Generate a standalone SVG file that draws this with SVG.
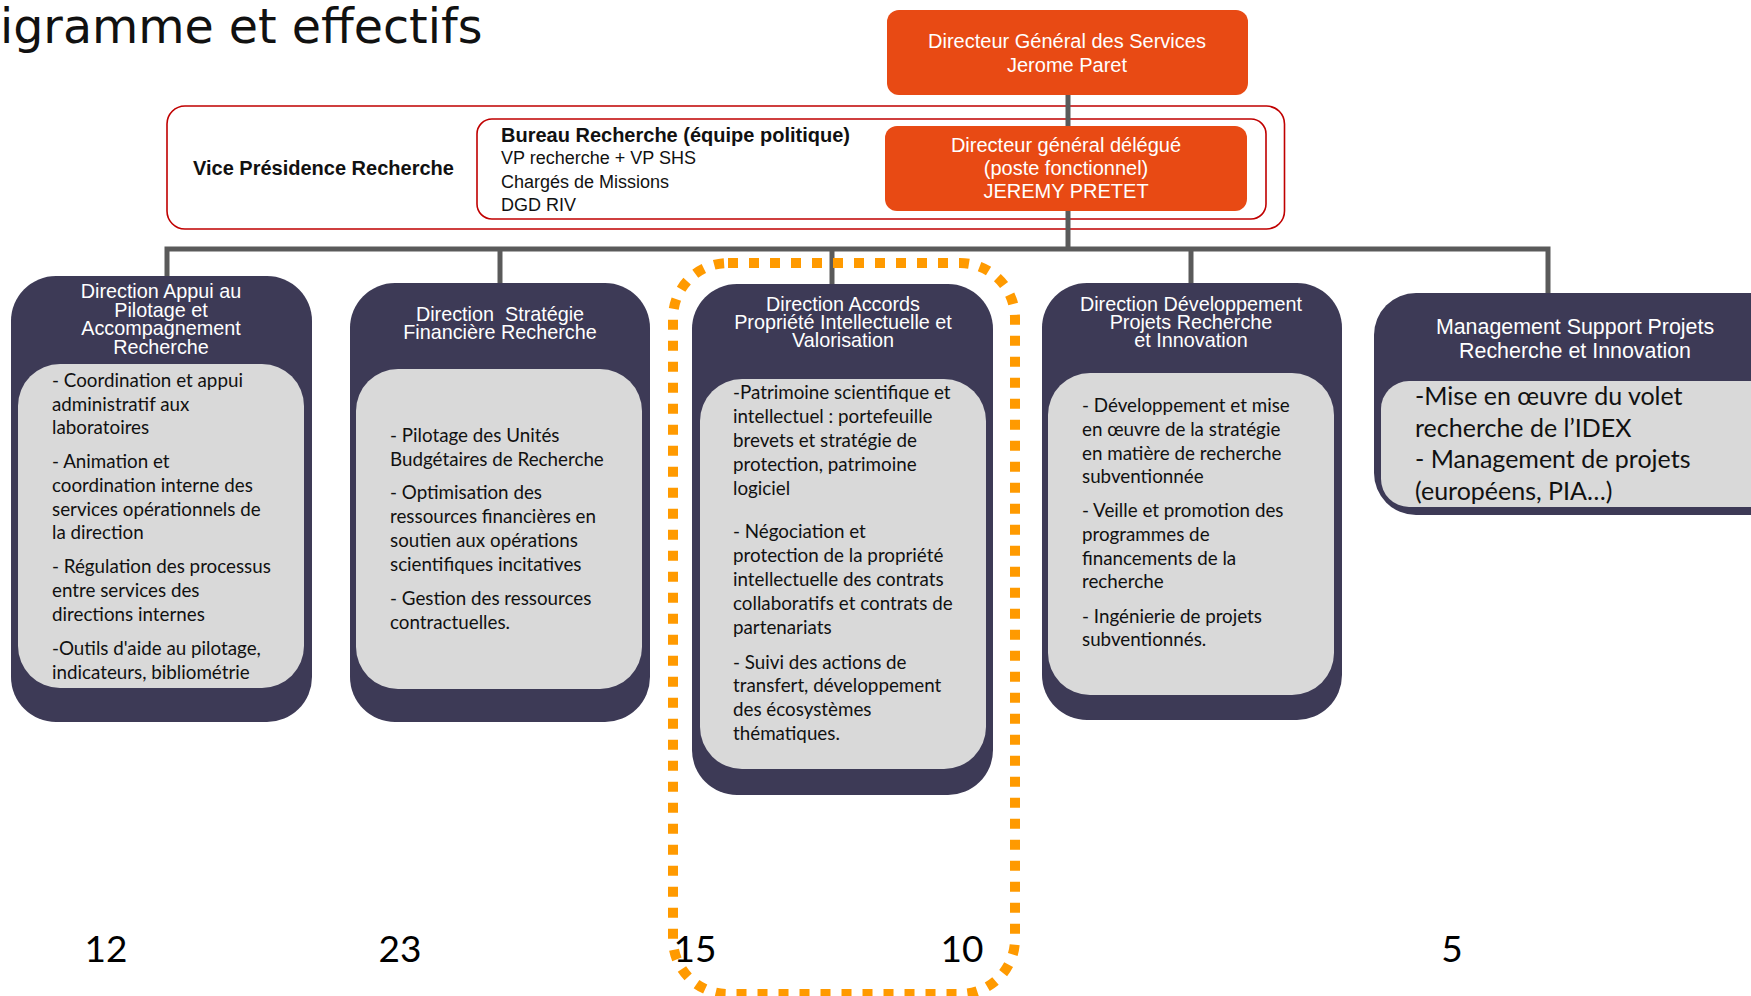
<svg xmlns="http://www.w3.org/2000/svg" width="1751" height="996" viewBox="0 0 1751 996">
<style>
.navy{fill:#3d3a56}
.lite{fill:#d9d9d9}
.org{fill:#e84a14}
.red{fill:none;stroke:#c00000;stroke-width:1.6}
.ttl{font-family:"Liberation Sans",Arial,sans-serif;font-size:19.8px;fill:#ffffff;text-anchor:middle}
.otx{font-family:"Liberation Sans",Arial,sans-serif;font-size:20px;fill:#ffffff;text-anchor:middle}
.body{font-family:Lato,"Open Sans",sans-serif;font-size:18.8px;fill:#111111}
.big{font-size:25px}
.vp{font-family:"Liberation Sans",Arial,sans-serif;fill:#111111}
.conn{stroke:#5a5a5a;stroke-width:5;fill:none}
.num{font-family:Lato,"Open Sans",sans-serif;font-size:37px;fill:#000000;text-anchor:middle}
</style>
<rect width="1751" height="996" fill="#ffffff"/>
<text x="0" y="43" font-family="'DejaVu Sans',Verdana,sans-serif" font-size="47.5" fill="#111111">igramme et effectifs</text>

<g id="vice-presidence">
<rect class="red" x="167" y="106" width="1117.5" height="123" rx="18"/>
<text class="vp" x="193" y="175" font-size="20" font-weight="bold">Vice Présidence Recherche</text>
</g>
<g id="bureau-recherche">
<rect class="red" x="477" y="119" width="789" height="100" rx="15"/>
<text class="vp" x="501" y="142" font-size="20" font-weight="bold">Bureau Recherche (équipe politique)</text>
<text class="vp" x="501" y="164" font-size="18">VP recherche + VP SHS</text>
<text class="vp" x="501" y="187.5" font-size="18">Chargés de Missions</text>
<text class="vp" x="501" y="211" font-size="18">DGD RIV</text>
</g>

<g id="connectors">
<path class="conn" d="M1068 95V126"/>
<path class="conn" d="M1068 211V249"/>
<path class="conn" d="M167 282V249H1548V293"/>
<path class="conn" d="M500 249V284"/>
<path class="conn" d="M832 249V284"/>
<path class="conn" d="M1191 249V284"/>
</g>

<g id="dgs">
<rect class="org" x="887" y="10" width="361" height="85" rx="12"/>
<text class="otx" x="1067" y="48">Directeur Général des Services</text>
<text class="otx" x="1067" y="72">Jerome Paret</text>
</g>
<g id="dgd">
<rect class="org" x="885" y="126" width="362" height="85" rx="12"/>
<text class="otx" x="1066" y="152">Directeur général délégué</text>
<text class="otx" x="1066" y="175">(poste fonctionnel)</text>
<text class="otx" x="1066" y="198">JEREMY PRETET</text>
</g>

<g id="dir-appui-pilotage">
<rect class="navy" x="11" y="276" width="301" height="446" rx="45"/>
<rect class="lite" x="18" y="364" width="286" height="324" rx="42"/>
<text class="ttl" x="161" y="298">Direction Appui au</text>
<text class="ttl" x="161" y="316.5">Pilotage et</text>
<text class="ttl" x="161" y="335">Accompagnement</text>
<text class="ttl" x="161" y="353.5">Recherche</text>
<text class="body" x="52" y="387">- Coordination et appui</text>
<text class="body" x="52" y="411">administratif aux</text>
<text class="body" x="52" y="434">laboratoires</text>
<text class="body" x="52" y="468">- Animation et</text>
<text class="body" x="52" y="492">coordination interne des</text>
<text class="body" x="52" y="516">services opérationnels de</text>
<text class="body" x="52" y="539">la direction</text>
<text class="body" x="52" y="573">- Régulation des processus</text>
<text class="body" x="52" y="597">entre services des</text>
<text class="body" x="52" y="621">directions internes</text>
<text class="body" x="52" y="655">-Outils d'aide au pilotage,</text>
<text class="body" x="52" y="679">indicateurs, bibliométrie</text>
</g>

<g id="dir-strategie-financiere">
<rect class="navy" x="350" y="283" width="300" height="439" rx="45"/>
<rect class="lite" x="356" y="369" width="286" height="320" rx="42"/>
<text class="ttl" x="500" y="321" style="white-space:pre">Direction  Stratégie</text>
<text class="ttl" x="500" y="339">Financière Recherche</text>
<text class="body" x="390" y="442">- Pilotage des Unités</text>
<text class="body" x="390" y="466">Budgétaires de Recherche</text>
<text class="body" x="390" y="499">- Optimisation des</text>
<text class="body" x="390" y="523">ressources financières en</text>
<text class="body" x="390" y="547">soutien aux opérations</text>
<text class="body" x="390" y="571">scientifiques incitatives</text>
<text class="body" x="390" y="605">- Gestion des ressources</text>
<text class="body" x="390" y="629">contractuelles.</text>
</g>

<g id="dir-accords-pi">
<rect class="navy" x="692" y="284" width="301" height="511" rx="45"/>
<rect class="lite" x="700" y="379" width="286" height="390" rx="42"/>
<text class="ttl" x="843" y="311">Direction Accords</text>
<text class="ttl" x="843" y="329">Propriété Intellectuelle et</text>
<text class="ttl" x="843" y="347">Valorisation</text>
<text class="body" x="733" y="399">-Patrimoine scientifique et</text>
<text class="body" x="733" y="423">intellectuel : portefeuille</text>
<text class="body" x="733" y="447">brevets et stratégie de</text>
<text class="body" x="733" y="471">protection, patrimoine</text>
<text class="body" x="733" y="495">logiciel</text>
<text class="body" x="733" y="538">- Négociation et</text>
<text class="body" x="733" y="562">protection de la propriété</text>
<text class="body" x="733" y="586">intellectuelle des contrats</text>
<text class="body" x="733" y="610">collaboratifs et contrats de</text>
<text class="body" x="733" y="634">partenariats</text>
<text class="body" x="733" y="669">- Suivi des actions de</text>
<text class="body" x="733" y="692">transfert, développement</text>
<text class="body" x="733" y="716">des écosystèmes</text>
<text class="body" x="733" y="740">thématiques.</text>
</g>

<g id="dir-developpement">
<rect class="navy" x="1042" y="283" width="300" height="437" rx="45"/>
<rect class="lite" x="1048" y="373" width="286" height="322" rx="42"/>
<text class="ttl" x="1191" y="311">Direction Développement</text>
<text class="ttl" x="1191" y="328.5">Projets Recherche</text>
<text class="ttl" x="1191" y="347">et Innovation</text>
<text class="body" x="1082" y="412">- Développement et mise</text>
<text class="body" x="1082" y="436">en œuvre de la stratégie</text>
<text class="body" x="1082" y="460">en matière de recherche</text>
<text class="body" x="1082" y="483">subventionnée</text>
<text class="body" x="1082" y="517">- Veille et promotion des</text>
<text class="body" x="1082" y="541">programmes de</text>
<text class="body" x="1082" y="565">financements de la</text>
<text class="body" x="1082" y="588">recherche</text>
<text class="body" x="1082" y="623">- Ingénierie de projets</text>
<text class="body" x="1082" y="646">subventionnés.</text>
</g>

<g id="management-support">
<rect class="navy" x="1374" y="293" width="420" height="222" rx="42"/>
<rect class="lite" x="1381" y="381" width="410" height="126" rx="28"/>
<text class="ttl" x="1575" y="334" style="font-size:21.4px">Management Support Projets</text>
<text class="ttl" x="1575" y="358" style="font-size:21.4px">Recherche et Innovation</text>
<text class="body big" x="1415" y="405">-Mise en œuvre du volet</text>
<text class="body big" x="1415" y="436.5">recherche de l’IDEX</text>
<text class="body big" x="1415" y="468">- Management de projets</text>
<text class="body big" x="1415" y="499.5">(européens, PIA…)</text>
</g>

<g id="highlight">
<rect x="673" y="263" width="342" height="731" rx="55" fill="none" stroke="#ff9a00" stroke-width="10" stroke-dasharray="10 11"/>
</g>

<g id="effectifs">
<text class="num" x="106" y="962">12</text>
<text class="num" x="400" y="962">23</text>
<text class="num" x="695" y="962">15</text>
<text class="num" x="962" y="962">10</text>
<text class="num" x="1452" y="962">5</text>
</g>
</svg>
